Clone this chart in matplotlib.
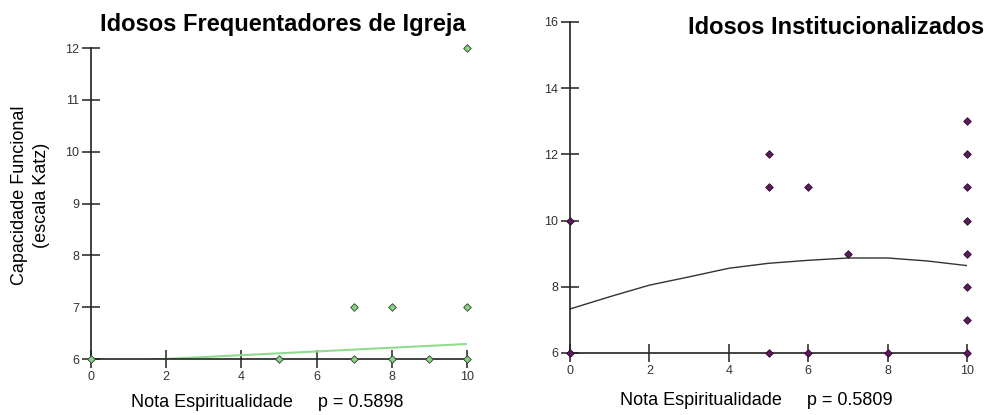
import numpy as np
import matplotlib.pyplot as plt

plt.rcParams['font.family'] = ['Liberation Sans', 'DejaVu Sans']

# idosos frequentadores de igreja
igreja_x = [0, 5, 7, 8, 9, 10, 7, 8, 10, 10]
igreja_y = [6, 6, 6, 6, 6, 6, 7, 7, 7, 12]
igreja_fit_x = [0, 10]
igreja_fit_y = [5.93, 6.29]
igreja_p = 0.5898

# idosos institucionalizados
inst_x = [0, 0, 5, 5, 5, 6, 6, 7, 8, 10, 10, 10, 10, 10, 10, 10, 10]
inst_y = [6, 10, 6, 11, 12, 6, 11, 9, 6, 6, 7, 8, 9, 10, 11, 12, 13]
inst_fit_x = [0, 1, 2, 3, 4, 5, 6, 7, 8, 9, 10]
inst_fit_y = [7.33, 7.70, 8.05, 8.30, 8.56, 8.71, 8.80, 8.87, 8.87, 8.78, 8.64]
inst_p = 0.5809

xticks = [0, 2, 4, 6, 8, 10]


def style_axes(ax, ylim, yticks):
    ax.set_xlim(0, 10)
    ax.set_ylim(*ylim)
    ax.set_xticks(xticks)
    ax.set_yticks(yticks)
    for s in ['top', 'right']:
        ax.spines[s].set_visible(False)
    for s in ['left', 'bottom']:
        ax.spines[s].set_color('#222222')
        ax.spines[s].set_linewidth(1.2)
    ax.tick_params(direction='inout', length=13, width=1.1, color='#222222',
                   labelsize=9, labelcolor='#333333', pad=2)
    ax.patch.set_alpha(0)


fig = plt.figure(figsize=(9.9, 4.15), dpi=100)

ax1 = fig.add_axes([0.0919, 0.1349, 0.3798, 0.7494])
style_axes(ax1, (6, 12), range(6, 13))
ax1.plot(igreja_fit_x, igreja_fit_y, color='#8fdc8f', lw=1.5, zorder=2)
ax1.scatter(igreja_x, igreja_y, marker='D', s=15, c='#86d486',
            edgecolors='#2f3f2f', linewidths=0.6, zorder=3, clip_on=False)

ax2 = fig.add_axes([0.5758, 0.1494, 0.4010, 0.7976])
style_axes(ax2, (6, 16), range(6, 17, 2))
ax2.plot(inst_fit_x, inst_fit_y, color='#333333', lw=1.0, zorder=2)
ax2.scatter(inst_x, inst_y, marker='D', s=15, c='#5a1c5a',
            edgecolors='#2a0a2a', linewidths=0.6, zorder=3, clip_on=False)

fig.text(0.286, 0.942, 'Idosos Frequentadores de Igreja', ha='center', va='center',
         fontsize=17, fontweight='bold')
fig.text(0.845, 0.933, 'Idosos Institucionalizados', ha='center', va='center',
         fontsize=17, fontweight='bold')

fig.text(0.031, 0.53, 'Capacidade Funcional\n(escala Katz)', rotation=90,
         ha='center', va='center', multialignment='center', fontsize=13,
         linespacing=1.35)

fig.text(0.27, 0.029, 'Nota Espiritualidade     p = %.4f' % igreja_p,
         ha='center', va='center', fontsize=13)
fig.text(0.764, 0.036, 'Nota Espiritualidade     p = %.4f' % inst_p,
         ha='center', va='center', fontsize=13)

fig.savefig('out.png', dpi=100, facecolor='white')
